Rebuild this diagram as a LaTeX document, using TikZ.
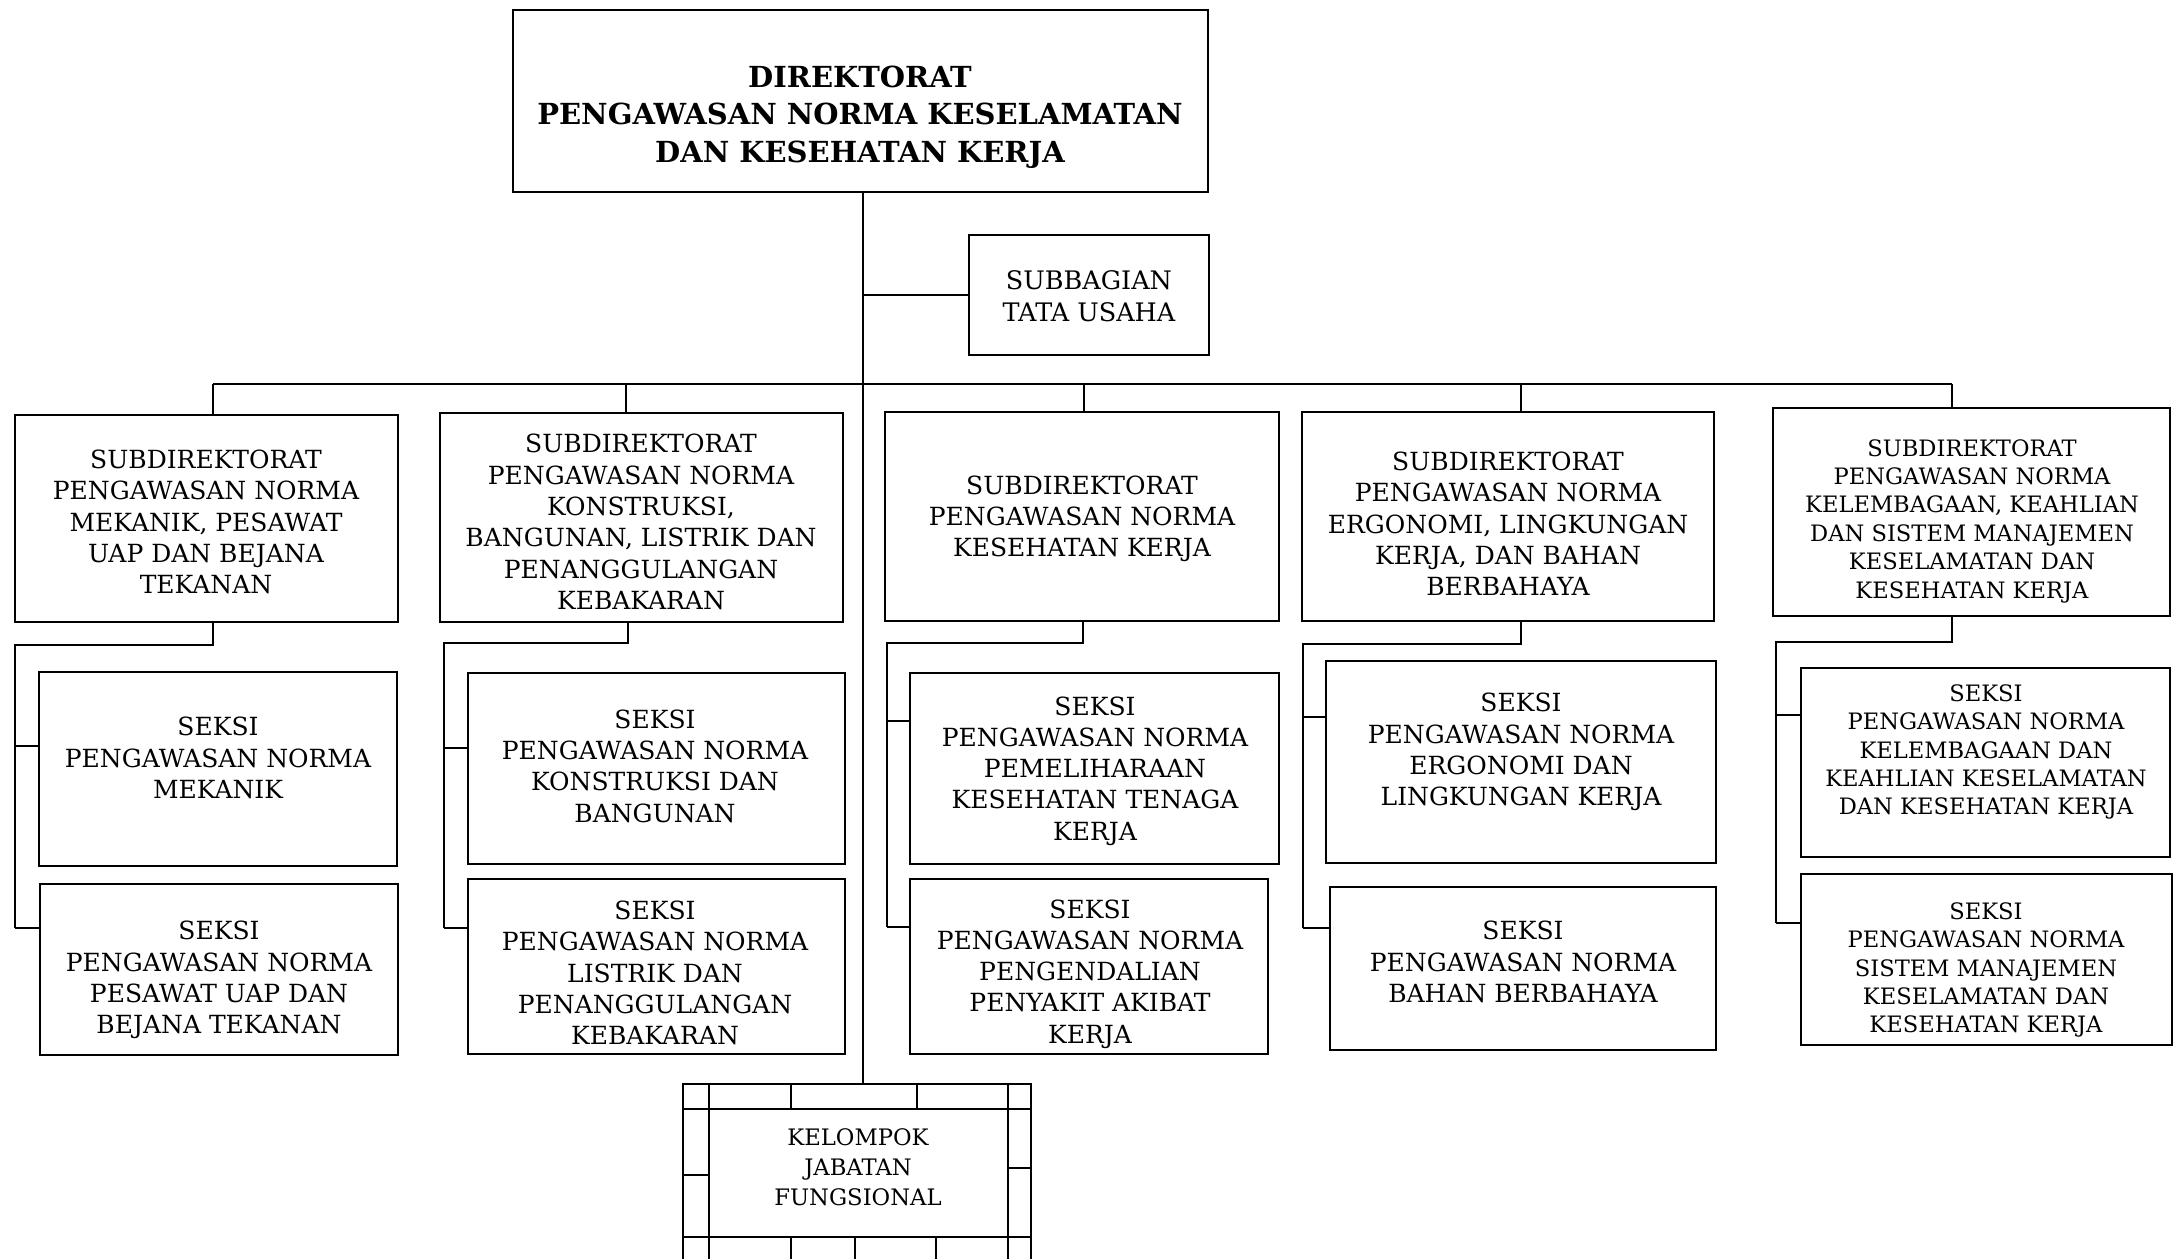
\documentclass[tikz,border=0pt]{standalone}
\usepackage{fontspec}
\setmainfont{DejaVu Serif}
\begin{document}
\begin{tikzpicture}[x=1pt,y=-1pt,
  box/.style={draw, line width=2pt, rectangle, inner sep=0pt, outer sep=0pt, anchor=north west},
  txt/.style={align=center, inner sep=0pt, font=\fontsize{25}{31.3}\selectfont},
  smalltxt/.style={align=center, inner sep=0pt, font=\fontsize{22.6}{28.4}\selectfont},
  titletxt/.style={align=center, inner sep=0pt, font=\bfseries\fontsize{29}{37.5}\selectfont},
  conn/.style={line width=1.6pt},
  trunk/.style={line width=1.3pt},
  grid/.style={line width=1.8pt},
]
\fill[white] (0,0) rectangle (2182,1259);
\useasboundingbox (0,0) rectangle (2182,1259);

% --- boxes ---
\node[box, minimum width=695pt, minimum height=182pt] (dir) at (513,10) {};
\node[box, minimum width=240pt, minimum height=120pt] (tu) at (969,235) {};

\node[box, minimum width=383pt, minimum height=207pt] (b1) at (15,415) {};
\node[box, minimum width=403pt, minimum height=209pt] (b2) at (440,413) {};
\node[box, minimum width=394pt, minimum height=209pt] (b3) at (885,412) {};
\node[box, minimum width=412pt, minimum height=209pt] (b4) at (1302,412) {};
\node[box, minimum width=397pt, minimum height=208pt] (b5) at (1773,408) {};

\node[box, minimum width=358pt, minimum height=194pt] (s1a) at (39,672) {};
\node[box, minimum width=358pt, minimum height=171pt] (s1b) at (40,884) {};
\node[box, minimum width=377pt, minimum height=191pt] (s2a) at (468,673) {};
\node[box, minimum width=377pt, minimum height=175pt] (s2b) at (468,879) {};
\node[box, minimum width=369pt, minimum height=191pt] (s3a) at (910,673) {};
\node[box, minimum width=358pt, minimum height=175pt] (s3b) at (910,879) {};
\node[box, minimum width=390pt, minimum height=202pt] (s4a) at (1326,661) {};
\node[box, minimum width=386pt, minimum height=163pt] (s4b) at (1330,887) {};
\node[box, minimum width=369pt, minimum height=189pt] (s5a) at (1801,668) {};
\node[box, minimum width=371pt, minimum height=171pt] (s5b) at (1801,874) {};

\node[box, minimum width=299pt, minimum height=128pt] (kjf) at (709,1109) {};

% --- texts ---
\node[titletxt] (dirt) at (860,117) {DIREKTORAT\\PENGAWASAN NORMA KESELAMATAN\\DAN KESEHATAN KERJA};
\node[txt, font=\fontsize{25.5}{32}\selectfont] (tut) at (1089,296) {SUBBAGIAN\\TATA USAHA};

\node[txt] (b1t) at (206,522) {SUBDIREKTORAT\\PENGAWASAN NORMA\\MEKANIK, PESAWAT\\UAP DAN BEJANA\\TEKANAN};
\node[txt] (b2t) at (641,522) {SUBDIREKTORAT\\PENGAWASAN NORMA\\KONSTRUKSI,\\BANGUNAN, LISTRIK DAN\\PENANGGULANGAN\\KEBAKARAN};
\node[txt] (b3t) at (1082,519) {SUBDIREKTORAT\\PENGAWASAN NORMA\\KESEHATAN KERJA};
\node[txt] (b4t) at (1508,524) {SUBDIREKTORAT\\PENGAWASAN NORMA\\ERGONOMI, LINGKUNGAN\\KERJA, DAN BAHAN\\BERBAHAYA};
\node[smalltxt] (b5t) at (1972,521) {SUBDIREKTORAT\\PENGAWASAN NORMA\\KELEMBAGAAN, KEAHLIAN\\DAN SISTEM MANAJEMEN\\KESELAMATAN DAN\\KESEHATAN KERJA};

\node[txt] (s1at) at (218,758) {SEKSI\\PENGAWASAN NORMA\\MEKANIK};
\node[txt] (s1bt) at (219,980) {SEKSI\\PENGAWASAN NORMA\\PESAWAT UAP DAN\\BEJANA TEKANAN};
\node[txt] (s2at) at (655,766) {SEKSI\\PENGAWASAN NORMA\\KONSTRUKSI DAN\\BANGUNAN};
\node[txt] (s2bt) at (655,973) {SEKSI\\PENGAWASAN NORMA\\LISTRIK DAN\\PENANGGULANGAN\\KEBAKARAN};
\node[txt] (s3at) at (1095,771) {SEKSI\\PENGAWASAN NORMA\\PEMELIHARAAN\\KESEHATAN TENAGA\\KERJA};
\node[txt] (s3bt) at (1090,974) {SEKSI\\PENGAWASAN NORMA\\PENGENDALIAN\\PENYAKIT AKIBAT\\KERJA};
\node[txt] (s4at) at (1521,752) {SEKSI\\PENGAWASAN NORMA\\ERGONOMI DAN\\LINGKUNGAN KERJA};
\node[txt] (s4bt) at (1523,962) {SEKSI\\PENGAWASAN NORMA\\BAHAN BERBAHAYA};
\node[smalltxt] (s5at) at (1986,752) {SEKSI\\PENGAWASAN NORMA\\KELEMBAGAAN DAN\\KEAHLIAN KESELAMATAN\\DAN KESEHATAN KERJA};
\node[smalltxt] (s5bt) at (1986,970) {SEKSI\\PENGAWASAN NORMA\\SISTEM MANAJEMEN\\KESELAMATAN DAN\\KESEHATAN KERJA};

\node[txt, font=\fontsize{22.7}{30}\selectfont] (kjft) at (858,1167) {KELOMPOK\\JABATAN\\FUNGSIONAL};

% --- main trunk and staff unit ---
\coordinate (tr) at (863,0);
\draw[trunk] (dir.south -| tr) -- (tr |- 0,1084);
\draw[conn] (tr |- tu.west) -- (tu.west);

% --- bus to the subdirectorates ---
\coordinate (d1) at (213,384);
\coordinate (d2) at (626,384);
\coordinate (d3) at (1084,384);
\coordinate (d4) at (1521,384);
\coordinate (d5) at (1952,384);
\draw[conn] (d1) -- (d5);
\foreach \i in {1,...,5} { \draw[conn] (d\i) -- (d\i |- b\i.north); }

% --- branches to the sections ---
\coordinate (e1) at (15,645);
\coordinate (e2) at (444,643);
\coordinate (e3) at (887,643);
\coordinate (e4) at (1303,644);
\coordinate (e5) at (1776,642);
\coordinate (f1) at (213,0);
\coordinate (f2) at (628,0);
\coordinate (f3) at (1083,0);
\coordinate (f4) at (1521,0);
\coordinate (f5) at (1952,0);
\foreach \i/\ya/\yb in {1/746/928, 2/748/928, 3/721/927, 4/717/928, 5/715/923} {
  \draw[conn] (f\i |- b\i.south) -- (f\i |- e\i) -- (e\i) -- (e\i |- 0,\yb);
  \draw[conn] (e\i |- 0,\ya) -- (s\i a.west |- 0,\ya);
  \draw[conn] (e\i |- 0,\yb) -- (s\i b.west |- 0,\yb);
}

% --- framed functional group ---
\draw[grid] (683,1259) -- (683,1084) -- (1031,1084) -- (1031,1259);
\draw[grid] (683,1109) -- (1031,1109);
\draw[grid] (683,1237) -- (1031,1237);
\draw[grid] (709,1084) -- (709,1259);
\draw[grid] (1008,1084) -- (1008,1259);
\draw[grid] (791,1084) -- (791,1109);
\draw[grid] (917,1084) -- (917,1109);
\draw[grid] (683,1175) -- (709,1175);
\draw[grid] (1008,1168) -- (1031,1168);
\draw[grid] (791,1237) -- (791,1259);
\draw[grid] (855,1237) -- (855,1259);
\draw[grid] (936,1237) -- (936,1259);
\end{tikzpicture}
\end{document}
